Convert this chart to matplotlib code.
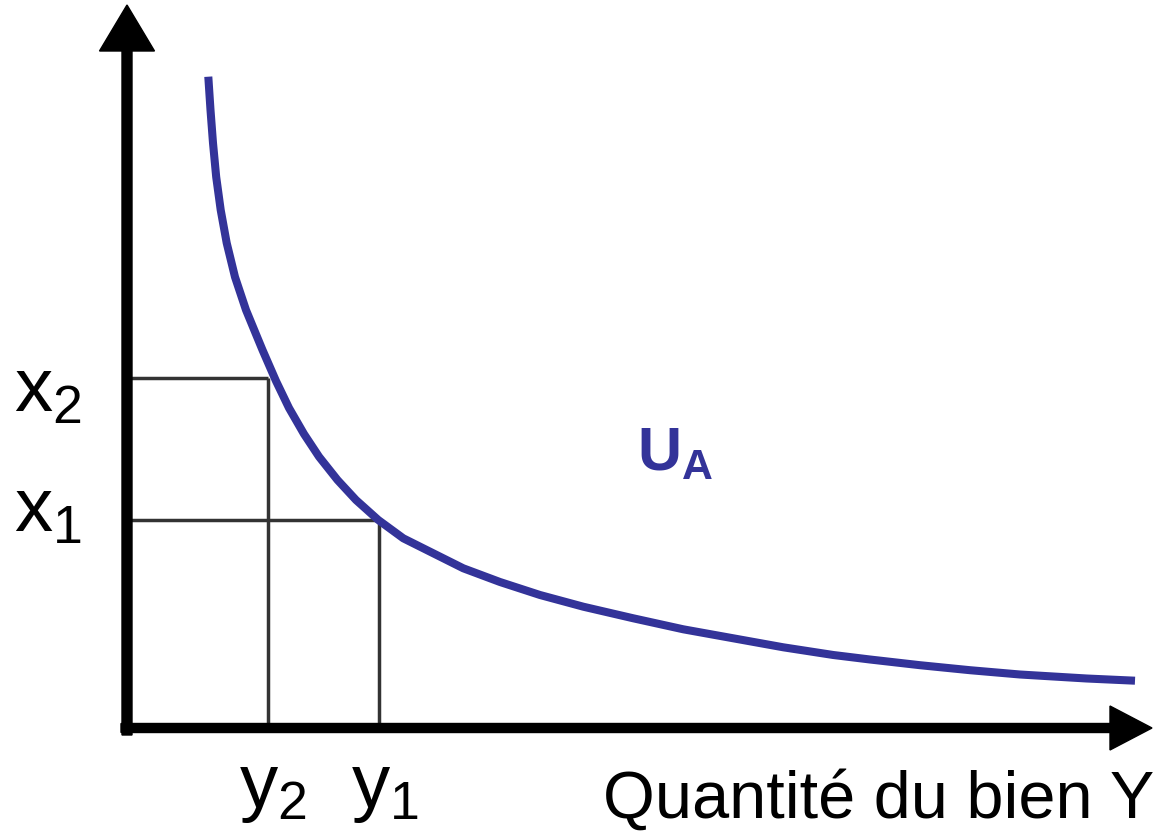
import matplotlib
matplotlib.use("Agg")
import matplotlib.pyplot as plt

plt.rcParams['font.family'] = ['Liberation Sans', 'DejaVu Sans']
plt.rcParams['mathtext.default'] = 'regular'

# indifference curve U_A (units: 100 px from the origin)
curve_x = [0.813, 0.835, 0.860, 0.892, 0.937, 0.997, 1.080, 1.190, 1.300, 1.355,
           1.490, 1.620, 1.770, 1.920, 2.105, 2.290, 2.513, 2.763, 3.063, 3.363,
           3.730, 4.130, 4.563, 5.063, 5.563, 6.063, 6.563, 7.063, 7.430, 7.930,
           8.430, 8.930, 9.597, 10.080]
curve_y = [6.513, 6.180, 5.850, 5.510, 5.180, 4.850, 4.510, 4.180, 3.913, 3.780,
           3.470, 3.200, 2.940, 2.713, 2.480, 2.280, 2.080, 1.897, 1.747, 1.597,
           1.460, 1.330, 1.213, 1.097, 0.987, 0.897, 0.807, 0.730, 0.685, 0.628,
           0.578, 0.535, 0.495, 0.473]

# reference quantities
x_levels = {'$x_2$': 3.50, '$x_1$': 2.08}
y_levels = {'$y_2$': 1.41, '$y_1$': 2.52}
curve_label = '$U_A$'
x_axis_label = 'Quantité du bien Y'

blue = '#333399'
grey = '#333333'

fig = plt.figure(figsize=(11.56, 8.32), dpi=100)
ax = fig.add_axes([0, 0, 1, 1])
ax.set_xlim(-1.27, 10.29)
ax.set_ylim(-1.04, 7.28)
ax.axis('off')

# guide lines
(xa, xb), (ya, yb) = x_levels.values(), y_levels.values()
for yv, xv in [(ya, xa), (yb, xb)]:
    ax.plot([0, yv], [xv, xv], color=grey, lw=2.5, solid_capstyle='butt')
    ax.plot([yv, yv], [0, xv], color=grey, lw=2.5, solid_capstyle='butt')

ax.plot(curve_x, curve_y, color=blue, lw=5.8, solid_capstyle='butt',
        solid_joinstyle='round')

# axes with arrow heads
ax.arrow(0, -0.07, 0, 7.30, width=0.10, head_width=0.55, head_length=0.46,
         length_includes_head=True, color='black', zorder=5)
ax.arrow(-0.06, 0, 10.31, 0, width=0.09, head_width=0.44, head_length=0.42,
         length_includes_head=True, color='black', zorder=5)

fs = 55
ax.text(-1.13, 3.17, '$x_2$', fontsize=fs, ha='left', va='baseline')
ax.text(-1.13, 1.97, '$x_1$', fontsize=fs, ha='left', va='baseline')
ax.text(1.12, -0.79, '$y_2$', fontsize=fs, ha='left', va='baseline')
ax.text(2.24, -0.79, '$y_1$', fontsize=fs, ha='left', va='baseline')
ax.text(5.10, 2.58, curve_label, fontsize=44, color=blue, ha='left',
        va='baseline', fontweight='bold')
ax.text(4.76, -0.90, x_axis_label, fontsize=48, ha='left', va='baseline')

fig.savefig('out.png', dpi=100)
